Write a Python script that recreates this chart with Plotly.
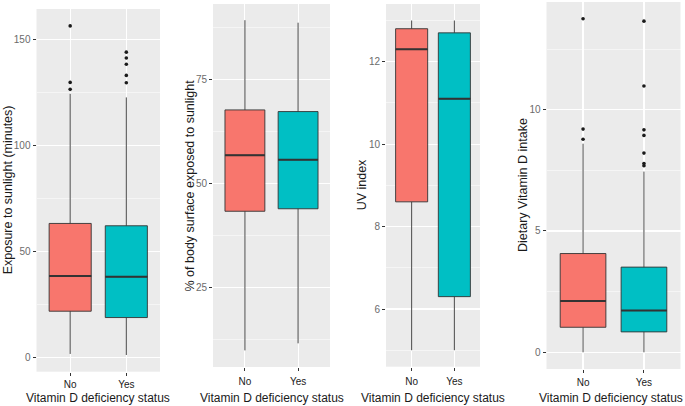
import plotly.graph_objects as go

groups = ["No", "Yes"]
fills = ["#F8766D", "#00BFC4"]

# Panel 1: Exposure to sunlight (minutes)
p1_q1 = [21.7, 18.7]
p1_med = [38.3, 38.0]
p1_q3 = [63.2, 62.1]
p1_lo = [1.5, 1.0]
p1_hi = [124.5, 122.8]
p1_out = [[156.6, 129.9, 126.6], [144.2, 141.4, 138.5, 133.2, 129.7]]

# Panel 2: % of body surface exposed to sunlight
p2_q1 = [43.3, 43.9]
p2_med = [56.8, 55.7]
p2_q3 = [67.7, 67.3]
p2_lo = [9.8, 11.5]
p2_hi = [89.3, 88.7]
p2_out = [[], []]

# Panel 3: UV index
p3_q1 = [8.6, 6.3]
p3_med = [12.3, 11.1]
p3_q3 = [12.8, 12.7]
p3_lo = [5.0, 5.0]
p3_hi = [13.0, 13.0]
p3_out = [[], []]

# Panel 4: Dietary Vitamin D intake
p4_q1 = [1.03, 0.84]
p4_med = [2.11, 1.72]
p4_q3 = [4.07, 3.51]
p4_lo = [0.0, 0.0]
p4_hi = [8.6, 7.45]
p4_out = [[13.75, 9.2, 8.78], [13.65, 10.98, 9.17, 8.94, 8.21, 7.78, 7.69]]

titles = ["Exposure to sunlight (minutes)", "% of body surface exposed to sunlight",
          "UV index", "Dietary Vitamin D intake"]
xtitle = "Vitamin D deficiency status"

panels = [
    (p1_q1, p1_med, p1_q3, p1_lo, p1_hi, p1_out),
    (p2_q1, p2_med, p2_q3, p2_lo, p2_hi, p2_out),
    (p3_q1, p3_med, p3_q3, p3_lo, p3_hi, p3_out),
    (p4_q1, p4_med, p4_q3, p4_lo, p4_hi, p4_out),
]

W, H = 685, 406
# pixel boxes of each panel: (left, right, top, bottom)
px = [(36.5, 160, 9, 371.7), (213, 330, 4, 367), (386, 480, 4, 366.7), (546.5, 680.5, 2, 369)]
yranges = [[-6.9, 164.6], [5.8, 93.2], [4.6, 13.4], [-0.69, 14.44]]
ymajor = [[0, 50, 100, 150], [25, 50, 75], [6, 8, 10, 12], [0, 5, 10]]
yminor = [[25, 75, 125], [12.5, 37.5, 62.5, 87.5], [5, 7, 9, 11, 13], [2.5, 7.5, 12.5]]
ytitle_x = [8, 189, 362, 522.5]
xtitle_cx = [98, 271.5, 433, 611]
xlab_standoff = [0, 2, 2, 1]

fig = go.Figure()
layout = {}
annotations = []
bw = 0.75
for i, (q1, med, q3, lo, hi, outs) in enumerate(panels):
    n = "" if i == 0 else str(i + 1)
    xa, ya = "x" + n, "y" + n
    for j, g in enumerate(groups):
        fig.add_trace(go.Box(
            x=[j], q1=[q1[j]], median=[med[j]], q3=[q3[j]],
            lowerfence=[lo[j]], upperfence=[hi[j]],
            width=bw, whiskerwidth=0, fillcolor=fills[j],
            line=dict(color="#333333", width=0.9),
            boxpoints=False, xaxis=xa, yaxis=ya, showlegend=False,
            hoverinfo="skip"))
        fig.add_trace(go.Scatter(
            x=[j - bw / 2, j + bw / 2], y=[med[j], med[j]], mode="lines",
            line=dict(color="#333333", width=2), xaxis=xa, yaxis=ya,
            showlegend=False, hoverinfo="skip"))
        if outs[j]:
            fig.add_trace(go.Scatter(
                x=[j] * len(outs[j]), y=outs[j], mode="markers",
                marker=dict(color="#1a1a1a", size=3.6), xaxis=xa, yaxis=ya,
                showlegend=False, hoverinfo="skip"))
    l, r, t, b = px[i]
    layout["xaxis" + n] = dict(
        domain=[l / W, r / W], anchor=ya, range=[-0.6, 1.6],
        tickvals=[0, 1], ticktext=groups, showgrid=True, gridcolor="white",
        gridwidth=1.1, zeroline=False, ticks="outside", ticklen=3,
        tickcolor="#333333", tickwidth=1, ticklabelstandoff=xlab_standoff[i],
        tickfont=dict(family="Liberation Sans, Arial", size=10, color="#1a1a1a"),
        showline=False, fixedrange=True)
    layout["yaxis" + n] = dict(
        domain=[(H - b) / H, (H - t) / H], anchor=xa, range=yranges[i],
        tickvals=ymajor[i], showgrid=True, gridcolor="white", gridwidth=1.1,
        zeroline=False, ticks="outside", ticklen=3, tickcolor="#333333",
        tickwidth=1,
        tickfont=dict(family="Liberation Sans, Arial", size=10, color="#6b6b6b"),
        minor=dict(tickvals=yminor[i], showgrid=True, gridcolor="white",
                   gridwidth=0.5, ticks=""),
        showline=False, fixedrange=True)
    annotations.append(dict(
        text=titles[i], x=ytitle_x[i] / W, y=(H - (t + b) / 2) / H,
        xref="paper", yref="paper", xanchor="center", yanchor="middle",
        textangle=-90, showarrow=False,
        font=dict(family="Liberation Sans, Arial", size=12.5, color="#1a1a1a")))
    annotations.append(dict(
        text=xtitle, x=xtitle_cx[i] / W, y=(H - 397.5) / H,
        xref="paper", yref="paper", xanchor="center", yanchor="middle",
        showarrow=False,
        font=dict(family="Liberation Sans, Arial", size=12, color="#1a1a1a")))

fig.update_layout(
    width=W, height=H, margin=dict(l=0, r=0, t=0, b=0),
    paper_bgcolor="white", plot_bgcolor="#EBEBEB", boxmode="overlay",
    annotations=annotations, **layout)

fig.write_html("out.html", config={"displayModeBar": False, "staticPlot": True},
               post_script="document.body.style.margin='0';document.body.style.overflow='hidden';")
